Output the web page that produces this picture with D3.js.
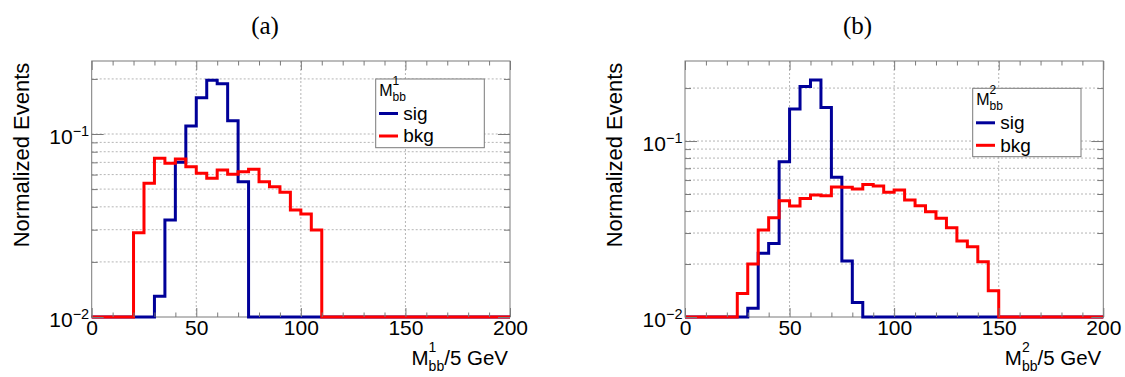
<!DOCTYPE html>
<html>
<head>
<meta charset="utf-8">
<script src="https://cdn.jsdelivr.net/npm/d3@7"></script>
<style>
  body { margin: 0; background: #fff; }
  svg { display: block; font-family: "Liberation Sans", Arial, sans-serif; }
</style>
</head>
<body>
<div id="chart"></div>
<script>
// ---- data, 40 bins of 5 GeV from 0 to 200 ----
const binWidth = 5;
const xTicks = [0, 50, 100, 150, 200];
const yMajor = [0.01, 0.1];
const yMinor = [0.02, 0.03, 0.04, 0.05, 0.06, 0.07, 0.08, 0.09, 0.2, 0.3];
const seriesNames = ["sig", "bkg"];
const panelTags = ["(a)", "(b)"];
const massIdx = ["1", "2"];

// panel (a): M_bb^1
const sigA = [0, 0, 0, 0, 0, 0, 0.0130, 0.0339, 0.0700, 0.1106, 0.158, 0.197, 0.188, 0.118, 0.0549,
  0, 0, 0, 0, 0, 0, 0, 0, 0, 0, 0, 0, 0, 0, 0, 0, 0, 0, 0, 0, 0, 0, 0, 0, 0];
const bkgA = [0, 0, 0, 0, 0.0289, 0.0538, 0.0736, 0.0692, 0.0730, 0.0663, 0.0610, 0.0573, 0.0636, 0.0602,
  0.0622, 0.0641, 0.0549, 0.0515, 0.0480, 0.0384, 0.0365, 0.0299,
  0, 0, 0, 0, 0, 0, 0, 0, 0, 0, 0, 0, 0, 0, 0, 0, 0, 0];
// panel (b): M_bb^2
const sigB = [0, 0, 0, 0, 0, 0, 0.0112, 0.0230, 0.0262, 0.0763, 0.152, 0.204, 0.222, 0.155, 0.0622,
  0.0208, 0.0121, 0, 0, 0, 0, 0, 0, 0, 0, 0, 0, 0, 0, 0, 0, 0, 0, 0, 0, 0, 0, 0, 0, 0];
const bkgB = [0, 0, 0, 0, 0, 0.0136, 0.0200, 0.0312, 0.0367, 0.0458, 0.0427, 0.0472, 0.0493, 0.0489,
  0.0548, 0.0546, 0.0534, 0.0567, 0.0555, 0.0511, 0.0527, 0.0462, 0.0429, 0.0397, 0.0364, 0.0322,
  0.0270, 0.0251, 0.0206, 0.0141, 0, 0, 0, 0, 0, 0, 0, 0, 0, 0];
const yMaxA = 0.2506, yMaxB = 0.285;

// ---- layout ----
const W = 1125, H = 377;
const colors = ["#000099", "#ff0000"];
const frameColor = "#7a7a7a";

const panels = [
  { sig: sigA, bkg: bkgA, ymax: yMaxA, tag: panelTags[0], idx: massIdx[0],
    left: 91.7, right: 510, top: 61, bottom: 317,
    tagX: 265, yLabX: 28.5, leg: { x: 375.7, y: 79, w: 108.6, h: 68.7 } },
  { sig: sigB, bkg: bkgB, ymax: yMaxB, tag: panelTags[1], idx: massIdx[1],
    left: 685, right: 1103.3, top: 61, bottom: 317,
    tagX: 857.5, yLabX: 622, leg: { x: 972.7, y: 88.3, w: 108.3, h: 68.4 } }
];

const svg = d3.select("#chart").append("svg")
  .attr("width", W).attr("height", H);
svg.append("rect").attr("width", W).attr("height", H).attr("fill", "#fff");

// M_bb with sub "bb" and sup index stacked
function massLabel(sel, idx, subSize, lift, drop) {
  sel.append("tspan").text("M");
  sel.append("tspan").attr("font-size", subSize).attr("dy", drop).text("bb");
  const bbW = 2 * 0.556 * subSize, supW = 0.556 * subSize;
  sel.append("tspan").attr("font-size", subSize).attr("dx", -bbW).attr("dy", -(drop + lift)).text(idx);
  return { shift: bbW - supW, back: lift };
}

panels.forEach(p => {
  const x = d3.scaleLinear().domain([0, 200]).range([p.left, p.right]);
  const y = d3.scaleLog().domain([0.01, p.ymax]).range([p.bottom, p.top]).clamp(true);
  const g = svg.append("g");
  const gridY = yMinor.concat([0.1]).filter(v => v < p.ymax);

  // grid
  g.selectAll(".hgrid").data(gridY).join("line")
    .attr("x1", p.left).attr("x2", p.right)
    .attr("y1", d => y(d)).attr("y2", d => y(d))
    .attr("stroke", "#b5b5b5").attr("stroke-dasharray", "2,2").attr("stroke-width", 1);
  g.selectAll(".vgrid").data(xTicks.slice(1, -1)).join("line")
    .attr("x1", d => x(d)).attr("x2", d => x(d))
    .attr("y1", p.top).attr("y2", p.bottom)
    .attr("stroke", "#b5b5b5").attr("stroke-dasharray", "2,2").attr("stroke-width", 1);

  // frame
  g.append("rect").attr("x", p.left).attr("y", p.top)
    .attr("width", p.right - p.left).attr("height", p.bottom - p.top)
    .attr("fill", "none").attr("stroke", frameColor).attr("stroke-width", 1);

  // histograms (sig first, bkg on top)
  const line = d3.line().x(d => x(d[0])).y(d => y(Math.max(d[1], 0.01)));
  [p.sig, p.bkg].forEach((vals, k) => {
    const pts = [];
    vals.forEach((v, i) => { pts.push([i * binWidth, v]); pts.push([(i + 1) * binWidth, v]); });
    g.append("path").attr("d", line(pts))
      .attr("fill", "none").attr("stroke", colors[k]).attr("stroke-width", 3)
      .attr("stroke-linejoin", "miter");
  });

  // axes (ticks pointing inward)
  const minorX = d3.range(0, 201, 10).filter(v => !xTicks.includes(v));
  const minorY = yMinor.filter(v => v < p.ymax);
  const styleAxis = a => { a.select(".domain").remove(); a.selectAll("line").attr("stroke", frameColor); };

  const bx = g.append("g").attr("transform", `translate(0,${p.bottom})`)
    .call(d3.axisBottom(x).tickValues(xTicks).tickSize(-9).tickPadding(3));
  bx.call(styleAxis);
  bx.selectAll("text").attr("font-size", 21).attr("font-family", "Liberation Sans, Arial, sans-serif").attr("fill", "#000");
  g.append("g").attr("transform", `translate(0,${p.bottom})`)
    .call(d3.axisBottom(x).tickValues(minorX).tickSize(-4.5).tickFormat("")).call(styleAxis);
  g.append("g").attr("transform", `translate(0,${p.top})`)
    .call(d3.axisTop(x).tickValues(xTicks).tickSize(-9).tickFormat("")).call(styleAxis);
  g.append("g").attr("transform", `translate(0,${p.top})`)
    .call(d3.axisTop(x).tickValues(minorX).tickSize(-4.5).tickFormat("")).call(styleAxis);

  const ly = g.append("g").attr("transform", `translate(${p.left},0)`)
    .call(d3.axisLeft(y).tickValues(yMajor).tickSize(-12).tickPadding(2.5)
      .tickFormat(d => "10"));
  ly.call(styleAxis);
  ly.selectAll("text").attr("font-size", 21).attr("dy", 9.5).attr("fill", "#000")
    .attr("font-family", "Liberation Sans, Arial, sans-serif")
    .append("tspan").attr("font-size", 14.5).attr("dy", -8)
    .text(d => "\u2212" + Math.round(-Math.log10(d)));
  g.append("g").attr("transform", `translate(${p.left},0)`)
    .call(d3.axisLeft(y).tickValues(minorY).tickSize(-6).tickFormat("")).call(styleAxis);
  g.append("g").attr("transform", `translate(${p.right},0)`)
    .call(d3.axisRight(y).tickValues(yMajor).tickSize(-12).tickFormat("")).call(styleAxis);
  g.append("g").attr("transform", `translate(${p.right},0)`)
    .call(d3.axisRight(y).tickValues(minorY).tickSize(-6).tickFormat("")).call(styleAxis);

  // axis titles
  g.append("text")
    .attr("transform", `translate(${p.yLabX},${(p.top + p.bottom) / 2 - 34}) rotate(-90)`)
    .attr("text-anchor", "middle").attr("font-size", 22).text("Normalized Events");

  const xt = g.append("text").attr("x", p.right - 2).attr("y", 365)
    .attr("text-anchor", "end").attr("font-size", 20.5);
  const m = massLabel(xt, p.idx, 14, 13, 6);
  xt.append("tspan").attr("dx", m.shift).attr("dy", 13).text("/5 GeV");

  // panel tag
  svg.append("text").attr("x", p.tagX).attr("y", 34).attr("text-anchor", "middle")
    .attr("font-family", "Liberation Serif, serif").attr("font-size", 25).text(p.tag);

  // legend
  const L = p.leg;
  const lg = g.append("g");
  lg.append("rect").attr("x", L.x).attr("y", L.y).attr("width", L.w).attr("height", L.h)
    .attr("fill", "#fff").attr("stroke", frameColor).attr("stroke-width", 1);
  const hdr = lg.append("text").attr("x", L.x + 3.5).attr("y", L.y + 17).attr("font-size", 16);
  massLabel(hdr, p.idx, 12, 11, 5);
  seriesNames.forEach((name, k) => {
    const ry = L.y + 34.5 + k * 22.5;
    lg.append("line").attr("x1", L.x + 3.3).attr("x2", L.x + 22.3).attr("y1", ry).attr("y2", ry)
      .attr("stroke", colors[k]).attr("stroke-width", 3);
    lg.append("text").attr("x", L.x + 27.6).attr("y", ry + 6.3).attr("font-size", 19).text(name);
  });
});
</script>
</body>
</html>
